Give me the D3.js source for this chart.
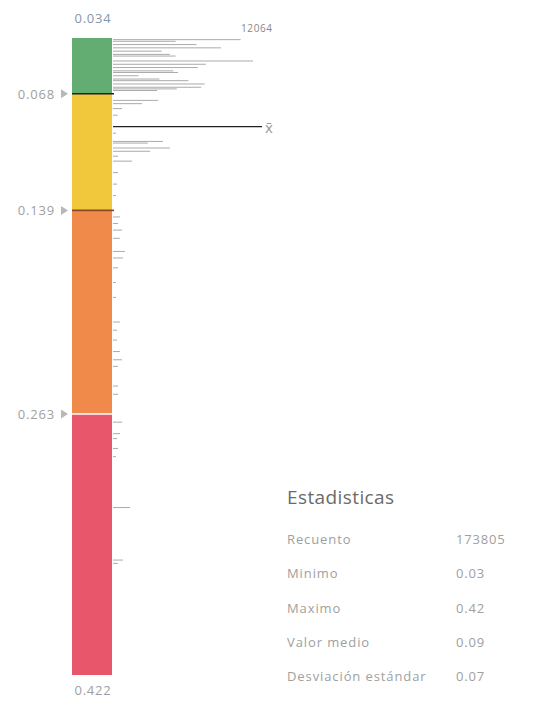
<!DOCTYPE html>
<html>
<head>
<meta charset="utf-8">
<script src="https://cdn.jsdelivr.net/npm/d3@7"></script>
<style>
  body { margin: 0; background: #fff; }
  svg text { font-family: "Open Sans", "Noto Sans", sans-serif; }
</style>
</head>
<body>
<div id="chart"></div>
<script>
// value range and class breaks
const minValue = 0.034, maxValue = 0.422;
const breaks = [0.034, 0.068, 0.139, 0.263, 0.422];
const classColors = ["#64ad72", "#f1c73c", "#f08a4b", "#e8566b"];
const breakLineColors = ["#222", "#8a4a2a", "#fff"];
const meanValue = 0.088;
const maxCount = 12064;

// histogram: value, count
const binValues = [
  0.035, 0.036, 0.038, 0.040, 0.042, 0.044, 0.045, 0.048, 0.050, 0.052, 0.054, 0.055, 0.057, 0.059, 0.060, 0.062, 0.064, 0.065, 0.066,
  0.072, 0.074, 0.077, 0.081, 0.092, 0.097, 0.098, 0.101, 0.103, 0.106, 0.109, 0.116, 0.123, 0.130,
  0.143, 0.147, 0.151, 0.156, 0.164, 0.168, 0.174, 0.183, 0.192, 0.207, 0.212, 0.218, 0.225, 0.230, 0.234, 0.246, 0.251,
  0.268, 0.275, 0.278, 0.284, 0.289, 0.320, 0.352, 0.354
];
const binCounts = [
  11000, 5400, 7200, 9300, 4200, 4900, 5400, 12064, 8000, 7300, 5200, 5600, 2200, 4000, 6500, 7900, 7600, 5500, 3800,
  3900, 2500, 780, 400, 260, 4300, 3000, 4900, 3200, 430, 1640, 430, 350, 260,
  600, 430, 780, 600, 1030, 860, 430, 260, 260, 600, 350, 350, 600, 780, 430, 430, 430,
  780, 600, 350, 430, 260, 1460, 860, 430
];

const statLabels = ["Recuento", "Minimo", "Maximo", "Valor medio", "Desviación estándar"];
const statValues = ["173805", "0.03", "0.42", "0.09", "0.07"];

const width = 535, height = 702;
const barLeft = 72, barRight = 112;

const svg = d3.select("#chart")
  .append("svg")
  .attr("width", width)
  .attr("height", height);

const y = d3.scaleLinear()
  .domain([minValue, maxValue])
  .range([38, 675]);

const x = d3.scaleLinear()
  .domain([0, maxCount])
  .range([barRight + 1, 253]);

// colour classes
const classes = d3.pairs(breaks);
svg.selectAll(".cls")
  .data(classes)
  .join("rect")
  .attr("class", "cls")
  .attr("x", barLeft)
  .attr("width", barRight - barLeft)
  .attr("y", d => y(d[0]))
  .attr("height", d => y(d[1]) - y(d[0]))
  .attr("fill", (d, i) => classColors[i]);

// break lines across the bar
svg.selectAll(".brk")
  .data(breaks.slice(1, 4))
  .join("line")
  .attr("class", "brk")
  .attr("x1", barLeft)
  .attr("x2", barRight + 2)
  .attr("y1", d => y(d))
  .attr("y2", d => y(d))
  .attr("stroke", (d, i) => breakLineColors[i])
  .attr("stroke-width", 1.6);

// histogram
const bins = binValues.map((v, i) => ({ v, c: binCounts[i] }));
svg.selectAll(".hist")
  .data(bins)
  .join("line")
  .attr("class", "hist")
  .attr("x1", x(0))
  .attr("x2", d => x(d.c))
  .attr("y1", d => y(d.v))
  .attr("y2", d => y(d.v))
  .attr("stroke", "#aaaaaa")
  .attr("stroke-width", 1);

// mean line
svg.append("line")
  .attr("x1", x(0))
  .attr("x2", 262)
  .attr("y1", y(meanValue))
  .attr("y2", y(meanValue))
  .attr("stroke", "#222")
  .attr("stroke-width", 1.3);

svg.append("text")
  .attr("x", 265)
  .attr("y", y(meanValue) + 6)
  .attr("font-size", 15)
  .attr("fill", "#999")
  .text("x\u0304");

svg.append("text")
  .attr("x", 241)
  .attr("y", 32)
  .attr("font-size", 10)
  .attr("letter-spacing", 0.6)
  .attr("fill", "#888")
  .text(d3.format("d")(maxCount));

// min / max labels
svg.append("text")
  .attr("x", (barLeft + barRight) / 2 + 1)
  .attr("y", 23)
  .attr("text-anchor", "middle")
  .attr("font-size", 13)
  .attr("letter-spacing", 0.8)
  .attr("fill", "#8496b2")
  .text(d3.format(".3f")(minValue));

svg.append("text")
  .attr("x", (barLeft + barRight) / 2 + 1)
  .attr("y", 695)
  .attr("text-anchor", "middle")
  .attr("font-size", 13)
  .attr("letter-spacing", 0.8)
  .attr("fill", "#a0a0a0")
  .text(d3.format(".3f")(maxValue));

// break labels with handles
const handles = svg.selectAll(".handle")
  .data(breaks.slice(1, 4))
  .join("g")
  .attr("class", "handle")
  .attr("transform", d => `translate(0,${y(d)})`);

handles.append("text")
  .attr("x", 55)
  .attr("y", 5)
  .attr("text-anchor", "end")
  .attr("font-size", 13)
  .attr("letter-spacing", 0.8)
  .attr("fill", "#a0a0a0")
  .text(d => d3.format(".3f")(d));

handles.append("path")
  .attr("d", "M61,-4.5L68,0L61,4.5Z")
  .attr("fill", "#b8b8b8");

// statistics panel
svg.append("text")
  .attr("x", 287)
  .attr("y", 504)
  .attr("font-size", 19)
  .attr("letter-spacing", 0.4)
  .attr("fill", "#6a6a6a")
  .text("Estadisticas");

const rows = svg.selectAll(".stat")
  .data(statLabels)
  .join("g")
  .attr("class", "stat")
  .attr("transform", (d, i) => `translate(0,${544 + i * 34.3})`);

rows.append("text")
  .attr("x", 287)
  .attr("font-size", 13)
  .attr("letter-spacing", 0.9)
  .attr("fill", "#a0a0a0")
  .text(d => d);

rows.append("text")
  .attr("x", 456)
  .attr("font-size", 13)
  .attr("letter-spacing", 0.8)
  .attr("fill", "#a0a0a0")
  .text((d, i) => statValues[i]);
</script>
</body>
</html>
